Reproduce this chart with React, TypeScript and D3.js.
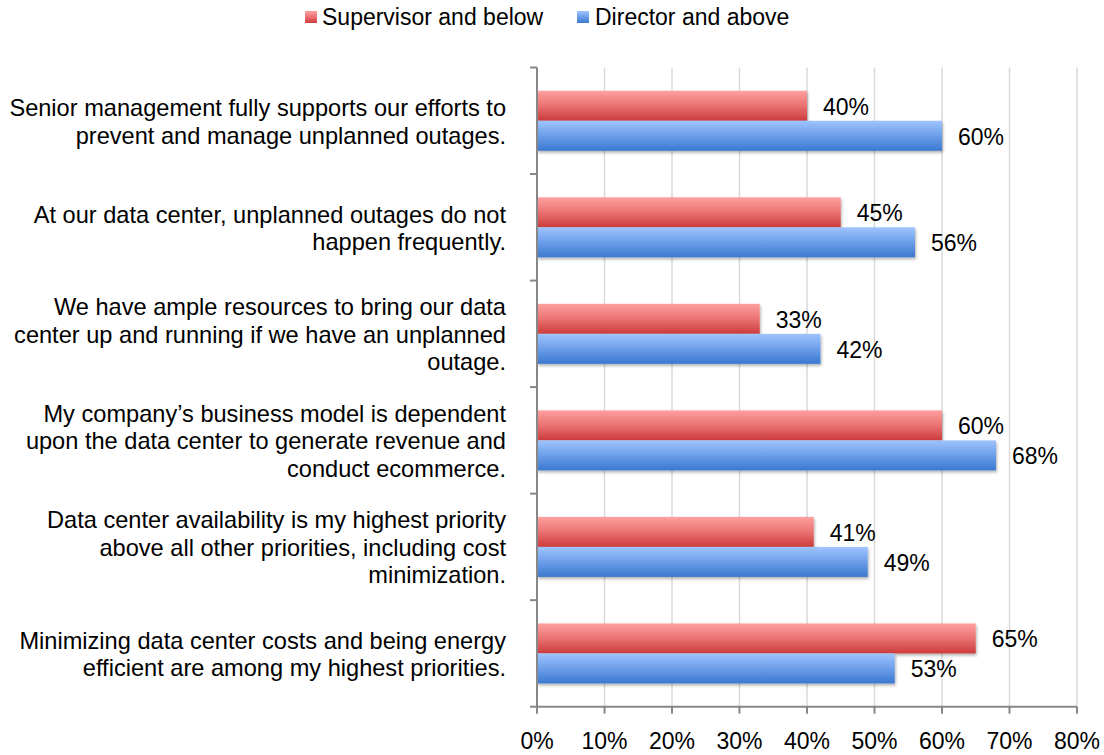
import React from "react";
import * as d3 from "d3";

const categories: string[][] = [
  ["Senior management fully supports our efforts to", "prevent and manage unplanned outages."],
  ["At our data center, unplanned outages do not", "happen frequently."],
  ["We have ample resources to bring our data", "center up and running if we have an unplanned", "outage."],
  ["My company\u2019s business model is dependent", "upon the data center to generate revenue and", "conduct ecommerce."],
  ["Data center availability is my highest priority", "above all other priorities, including cost", "minimization."],
  ["Minimizing data center costs and being energy", "efficient are among my highest priorities."],
];
const supervisor = [40, 45, 33, 60, 41, 65];
const director = [60, 56, 42, 68, 49, 53];
const seriesNames = ["Supervisor and below", "Director and above"];
const xTicks = [0, 10, 20, 30, 40, 50, 60, 70, 80];

const W = 1104;
const H = 755;
const left = 537;
const right = 1077;
const top = 67.5;
const bottom = 706.7;
const FONT = "'Liberation Sans', Arial, sans-serif";
const FS = 23;

export default function App() {
  const x = d3.scaleLinear().domain([0, 80]).range([left, right]);
  const y = d3
    .scaleBand<number>()
    .domain(d3.range(categories.length))
    .range([top, bottom]);
  const bw = y.bandwidth();
  const barH = bw * 0.2817;
  const lineH = 27.5;

  return (
    <svg
      width={W}
      height={H}
      style={{ position: "absolute", left: 0, top: 0, background: "#fff" }}
      fontFamily={FONT}
    >
      <defs>
        <linearGradient id="gRed" x1="0" y1="0" x2="0" y2="1">
          <stop offset="0" stopColor="#ffa0a0" />
          <stop offset="0.5" stopColor="#ea7272" />
          <stop offset="1" stopColor="#cc3b3b" />
        </linearGradient>
        <linearGradient id="gBlue" x1="0" y1="0" x2="0" y2="1">
          <stop offset="0" stopColor="#9fc4ff" />
          <stop offset="0.5" stopColor="#6c9ee9" />
          <stop offset="1" stopColor="#3a78cf" />
        </linearGradient>
        <filter id="shadow" x="-5%" y="-20%" width="110%" height="160%">
          <feDropShadow dx="1" dy="2" stdDeviation="1.5" floodColor="#000" floodOpacity="0.3" />
        </filter>
      </defs>

      {/* gridlines */}
      {xTicks.slice(1).map((t) => (
        <line key={"g" + t} x1={x(t)} x2={x(t)} y1={top} y2={bottom} stroke="#d9d9d9" strokeWidth={1.5} />
      ))}

      {/* bars */}
      {categories.map((_, i) => {
        const c = (y(i) as number) + bw / 2;
        return (
          <g key={"b" + i}>
            <rect
              x={x(0)}
              y={c - barH}
              width={x(supervisor[i]) - x(0)}
              height={barH}
              fill="url(#gRed)"
              filter="url(#shadow)"
            />
            <rect
              x={x(0)}
              y={c}
              width={x(director[i]) - x(0)}
              height={barH}
              fill="url(#gBlue)"
              filter="url(#shadow)"
            />
            <text x={x(supervisor[i]) + 16} y={c - barH / 2 + 9} fontSize={FS} fill="#000">
              {supervisor[i]}%
            </text>
            <text x={x(director[i]) + 16} y={c + barH / 2 + 9} fontSize={FS} fill="#000">
              {director[i]}%
            </text>
          </g>
        );
      })}

      {/* y axis */}
      <line x1={left} x2={left} y1={top} y2={bottom} stroke="#878787" strokeWidth={2} />
      {d3.range(categories.length + 1).map((i) => {
        const yy = top + i * bw;
        return <line key={"yt" + i} x1={left - 7} x2={left} y1={yy} y2={yy} stroke="#878787" strokeWidth={2} />;
      })}
      {/* x axis */}
      <line x1={left} x2={right} y1={bottom} y2={bottom} stroke="#878787" strokeWidth={2} />
      {xTicks.map((t) => (
        <line key={"xt" + t} x1={x(t)} x2={x(t)} y1={bottom} y2={bottom + 7} stroke="#878787" strokeWidth={2} />
      ))}
      {xTicks.map((t) => (
        <text key={"xl" + t} x={x(t)} y={749} fontSize={FS} textAnchor="middle" fill="#000">
          {t}%
        </text>
      ))}

      {/* category labels */}
      {categories.map((lines, i) => {
        const c = (y(i) as number) + bw / 2;
        const n = lines.length;
        return (
          <text key={"cl" + i} fontSize={23.6} textAnchor="end" fill="#000">
            {lines.map((l, j) => (
              <tspan key={j} x={506} y={c + (j - (n - 1) / 2) * lineH + 9}>
                {l}
              </tspan>
            ))}
          </text>
        );
      })}

      {/* legend */}
      <rect x={305} y={11} width={12} height={12} fill="url(#gRed)" />
      <text x={322} y={25} fontSize={FS} fill="#000">
        {seriesNames[0]}
      </text>
      <rect x={577} y={11} width={12} height={12} fill="url(#gBlue)" />
      <text x={595} y={25} fontSize={FS} fill="#000">
        {seriesNames[1]}
      </text>
    </svg>
  );
}
